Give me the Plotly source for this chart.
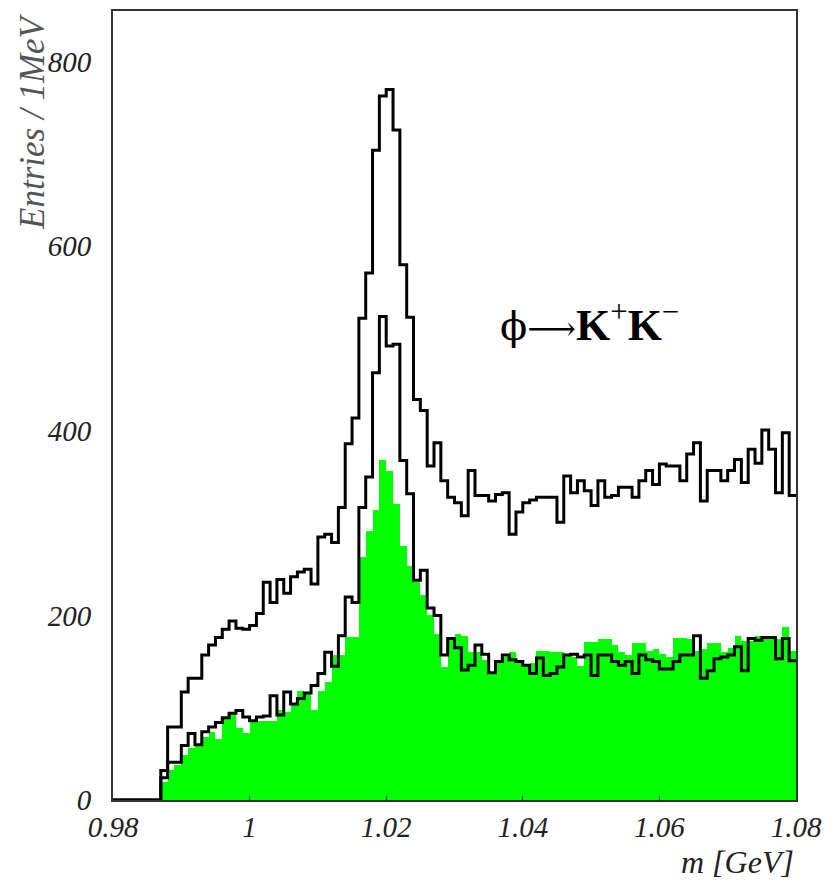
import plotly.graph_objects as go

# bin lower edges: 0.980 .. 1.079 (1 MeV bins)
bin_start = 0.980
bin_width = 0.001

total_counts = [0, 0, 0, 0, 0, 0, 0, 32, 79, 79,
                117, 132, 132, 157, 168, 176, 185, 194, 186, 185,
                189, 202, 236, 214, 239, 224, 242, 247, 250, 234,
                285, 288, 279, 317, 386, 414, 522, 571, 704, 763,
                770, 726, 580, 523, 434, 422, 362, 387, 346, 328,
                322, 308, 357, 330, 330, 324, 331, 333, 288, 312,
                322, 325, 328, 328, 328, 301, 351, 333, 346, 335,
                319, 346, 328, 330, 339, 339, 328, 346, 357, 342,
                364, 362, 362, 346, 375, 387, 324, 357, 357, 346,
                357, 369, 344, 380, 365, 401, 380, 333, 398, 330]

selected_counts = [0, 0, 0, 0, 0, 0, 0, 24, 41, 41,
                   59, 72, 60, 74, 79, 84, 89, 94, 97, 90,
                   86, 90, 91, 113, 92, 117, 104, 110, 116, 124,
                   137, 160, 145, 178, 220, 214, 317, 350, 463, 524,
                   492, 494, 368, 332, 238, 249, 208, 200, 157, 175,
                   165, 141, 146, 168, 158, 138, 150, 157, 152, 150,
                   146, 137, 154, 135, 137, 144, 157, 158, 155, 157,
                   135, 157, 157, 150, 146, 150, 137, 157, 152, 150,
                   142, 142, 150, 157, 157, 178, 132, 140, 153, 155,
                   157, 166, 140, 175, 173, 176, 176, 153, 175, 151]

green_counts = [0, 0, 0, 0, 0, 0, 0, 20, 32, 38,
                49, 56, 61, 68, 74, 66, 88, 94, 78, 73,
                86, 86, 86, 86, 97, 95, 105, 118, 115, 97,
                118, 128, 157, 157, 177, 177, 263, 291, 314, 368,
                357, 321, 275, 254, 236, 222, 201, 180, 144, 176,
                180, 178, 160, 160, 152, 137, 150, 155, 160, 150,
                146, 148, 162, 162, 160, 160, 157, 155, 145, 171,
                171, 175, 175, 168, 160, 157, 170, 170, 162, 164,
                158, 155, 176, 176, 174, 161, 164, 170, 170, 160,
                165, 178, 172, 172, 178, 176, 175, 174, 187, 162]

x_tick_vals = [0.98, 1.00, 1.02, 1.04, 1.06, 1.08]
x_tick_text = ["0.98", "1", "1.02", "1.04", "1.06", "1.08"]
y_tick_vals = [0, 200, 400, 600, 800]
y_tick_text = ["0", "200", "400", "600", "800"]

n = len(total_counts)
edges = [round(bin_start + i * bin_width, 6) for i in range(n + 1)]
centers = [round(bin_start + (i + 0.5) * bin_width, 6) for i in range(n)]

def step_xy(counts):
    xs = edges[:]
    ys = counts + [counts[-1]]
    return xs, ys

fig = go.Figure()
fig.add_trace(go.Bar(x=centers, y=green_counts, width=bin_width,
                     marker=dict(color="#00ff00", line=dict(width=0)),
                     showlegend=False, hoverinfo="skip"))
for counts in (total_counts, selected_counts):
    xs, ys = step_xy(counts)
    fig.add_trace(go.Scatter(x=xs, y=ys, mode="lines", line_shape="hv",
                             line=dict(color="black", width=3),
                             showlegend=False, hoverinfo="skip"))

serif = "Liberation Serif"
label_text = ('<span style="font-family:DejaVu Serif;font-size:40px">ϕ</span>'
              '<span style="font-family:DejaVu Serif;font-size:34px">⟶</span>'
              '<b>K</b><sup>+</sup><b>K</b><sup>−</sup>')

fig.update_layout(
    width=831, height=888,
    margin=dict(l=113, r=31, t=9, b=88),
    paper_bgcolor="white", plot_bgcolor="white",
    bargap=0,
    xaxis=dict(range=[0.98, 1.08], tickvals=x_tick_vals, ticktext=x_tick_text,
               showgrid=False, zeroline=False, showline=True, mirror=True,
               linecolor="#333", linewidth=2, ticks="inside", ticklen=4,
               tickcolor="#333",
               tickfont=dict(family=serif, size=29, color="#222", style="italic")),
    yaxis=dict(range=[0, 855], tickvals=y_tick_vals, ticktext=y_tick_text,
               showgrid=False, zeroline=False, showline=True, mirror=True,
               linecolor="#333", linewidth=2, ticks="", ticklabelstandoff=14,
               tickfont=dict(family=serif, size=29, color="#222", style="italic")),
    annotations=[
        dict(text="Entries / 1MeV", xref="paper", yref="paper", x=-0.118, y=1.0,
             xanchor="center", yanchor="top", textangle=-90, showarrow=False,
             font=dict(family=serif, size=35, color="#555", style="italic")),
        dict(text="m [GeV]", xref="paper", yref="paper", x=1.0, y=-0.078,
             xanchor="right", yanchor="middle", showarrow=False,
             font=dict(family=serif, size=32, color="#222", style="italic")),
        dict(text=label_text, xref="x", yref="y",
             x=1.0497, y=517, xanchor="center", yanchor="middle", showarrow=False,
             font=dict(family=serif, size=44, color="black")),
    ],
)

fig.write_html("out.html")
